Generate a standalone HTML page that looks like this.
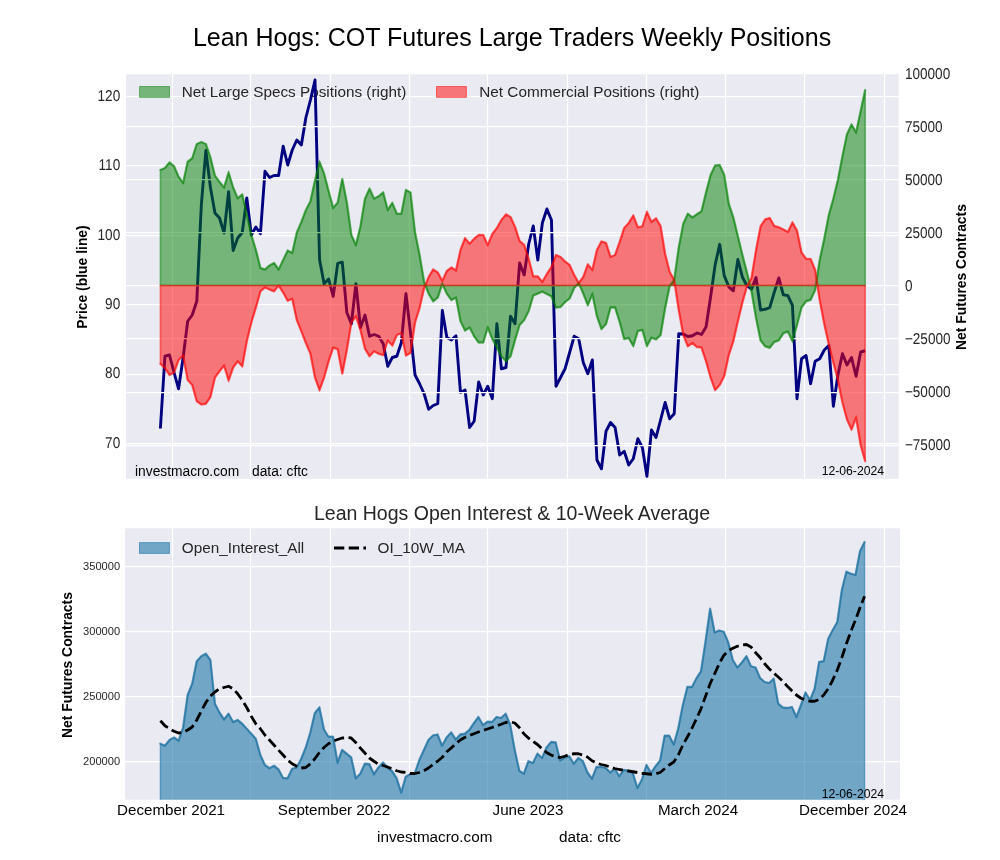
<!DOCTYPE html>
<html><head><meta charset="utf-8"><title>Lean Hogs COT</title>
<style>html,body{margin:0;padding:0;background:#fff;}body{width:1000px;height:860px;overflow:hidden;}svg{display:block;}text{font-family:"Liberation Sans",sans-serif;}</style></head><body>
<div style="will-change:transform;width:1000px;height:860px;">
<svg width="1000" height="860" viewBox="0 0 1000 860">
<rect x="0" y="0" width="1000" height="860" fill="#ffffff"/>
<defs>
<clipPath id="ct"><rect x="126.00" y="74.00" width="772.75" height="404.75"/></clipPath>
<clipPath id="cb"><rect x="125.00" y="528.30" width="775.00" height="271.40"/></clipPath>
</defs>
<rect x="126.00" y="74.00" width="772.75" height="404.75" fill="#EAEAF2"/>
<g clip-path="url(#ct)">
<g stroke="#ffffff" stroke-width="1.25" fill="none">
<line x1="172.50" y1="74.00" x2="172.50" y2="478.75"/>
<line x1="250.50" y1="74.00" x2="250.50" y2="478.75"/>
<line x1="330.50" y1="74.00" x2="330.50" y2="478.75"/>
<line x1="409.50" y1="74.00" x2="409.50" y2="478.75"/>
<line x1="487.50" y1="74.00" x2="487.50" y2="478.75"/>
<line x1="567.50" y1="74.00" x2="567.50" y2="478.75"/>
<line x1="646.50" y1="74.00" x2="646.50" y2="478.75"/>
<line x1="725.50" y1="74.00" x2="725.50" y2="478.75"/>
<line x1="804.50" y1="74.00" x2="804.50" y2="478.75"/>
<line x1="884.50" y1="74.00" x2="884.50" y2="478.75"/>
<line x1="126.00" y1="96.50" x2="898.75" y2="96.50"/>
<line x1="126.00" y1="165.50" x2="898.75" y2="165.50"/>
<line x1="126.00" y1="235.50" x2="898.75" y2="235.50"/>
<line x1="126.00" y1="304.50" x2="898.75" y2="304.50"/>
<line x1="126.00" y1="374.50" x2="898.75" y2="374.50"/>
<line x1="126.00" y1="443.50" x2="898.75" y2="443.50"/>
</g>
<g>
<rect x="139.6" y="86.5" width="29.9" height="10.8" fill="#008000" fill-opacity="0.5" stroke="#008000" stroke-opacity="0.5" stroke-width="1.0"/>
<text transform="translate(181.80,96.90)" font-size="15.30" text-anchor="start" fill="#262626">Net Large Specs Positions (right)</text>
<rect x="436.5" y="86.5" width="29.9" height="10.8" fill="#ff0000" fill-opacity="0.5" stroke="#ff0000" stroke-opacity="0.5" stroke-width="1.0"/>
<text transform="translate(479.30,96.90)" font-size="15.30" text-anchor="start" fill="#262626">Net Commercial Positions (right)</text>
</g>
<polyline points="160.40,428.50 164.95,356.25 169.49,355.00 174.04,372.50 178.59,388.75 183.13,357.50 187.68,321.25 192.23,315.00 196.78,301.25 201.32,205.00 205.87,150.50 210.42,187.50 214.96,213.00 219.51,218.00 224.06,233.00 228.61,191.75 233.15,250.50 237.70,238.00 242.25,232.50 246.79,198.00 251.34,235.00 255.89,227.00 260.43,233.75 264.98,171.25 269.53,177.50 274.07,175.50 278.62,175.50 283.17,146.25 287.72,165.00 292.26,150.00 296.81,140.00 301.36,145.00 305.90,117.50 310.45,100.00 315.00,80.00 319.54,259.50 324.09,283.80 328.64,279.00 333.19,296.40 337.73,263.40 342.28,262.20 346.83,312.50 351.37,323.75 355.92,283.75 360.47,327.50 365.01,315.00 369.56,336.25 374.11,334.50 378.66,336.25 383.20,343.75 387.75,366.25 392.30,357.50 396.84,356.25 401.39,342.50 405.94,293.75 410.49,332.50 415.03,375.00 419.58,383.75 424.13,393.75 428.67,409.25 433.22,405.50 437.77,403.75 442.31,310.50 446.86,337.50 451.41,340.00 455.96,335.75 460.50,392.50 465.05,390.00 469.60,427.50 474.14,421.25 478.69,382.00 483.24,395.00 487.78,386.25 492.33,398.75 496.88,323.75 501.42,368.75 505.97,367.50 510.52,316.25 515.07,323.75 519.61,263.00 524.16,275.00 528.71,244.00 533.25,226.00 537.80,260.00 542.35,223.00 546.89,209.00 551.44,220.00 555.99,386.25 560.54,377.50 565.08,368.75 569.63,352.50 574.18,336.25 578.72,338.75 583.27,362.50 587.82,373.75 592.37,360.00 596.91,460.00 601.46,468.75 606.01,431.25 610.55,422.50 615.10,427.50 619.65,455.00 624.19,451.25 628.74,465.00 633.29,458.75 637.83,438.75 642.38,447.50 646.93,476.25 651.48,430.00 656.02,437.50 660.57,420.00 665.12,402.50 669.66,418.75 674.21,413.75 678.76,333.75 683.30,334.00 687.85,336.50 692.40,335.70 696.95,332.90 701.49,334.50 706.04,327.00 710.59,297.00 715.13,265.00 719.68,244.30 724.23,275.60 728.77,286.80 733.32,290.80 737.87,259.50 742.42,277.20 746.96,285.70 751.51,289.20 756.06,277.50 760.60,310.00 765.15,309.30 769.70,307.70 774.24,292.40 778.79,278.00 783.34,294.80 787.89,295.60 792.43,305.30 796.98,398.75 801.53,358.75 806.07,355.50 810.62,383.75 815.17,361.25 819.71,358.75 824.26,350.00 828.81,345.50 833.36,406.25 837.90,375.00 842.45,353.75 847.00,365.00 851.54,357.50 856.09,376.25 860.64,352.00 865.18,350.75" fill="none" stroke="#000080" stroke-width="2.9" stroke-linejoin="round" stroke-linecap="butt"/>
<g stroke="#ffffff" stroke-width="1.25" fill="none">
<line x1="126.00" y1="73.50" x2="898.75" y2="73.50"/>
<line x1="126.00" y1="126.50" x2="898.75" y2="126.50"/>
<line x1="126.00" y1="179.50" x2="898.75" y2="179.50"/>
<line x1="126.00" y1="232.50" x2="898.75" y2="232.50"/>
<line x1="126.00" y1="285.50" x2="898.75" y2="285.50"/>
<line x1="126.00" y1="338.50" x2="898.75" y2="338.50"/>
<line x1="126.00" y1="392.50" x2="898.75" y2="392.50"/>
<line x1="126.00" y1="445.50" x2="898.75" y2="445.50"/>
</g>
<polygon points="160.40,285.50 160.40,170.00 164.95,168.00 169.49,162.50 174.04,166.25 178.59,176.75 183.13,183.00 187.68,161.75 192.23,158.25 196.78,144.00 201.32,142.00 205.87,144.00 210.42,157.50 214.96,175.75 219.51,182.00 224.06,187.50 228.61,172.50 233.15,187.50 237.70,198.25 242.25,194.50 246.79,214.50 251.34,235.00 255.89,250.00 260.43,268.00 264.98,269.50 269.53,265.50 274.07,263.00 278.62,269.50 283.17,260.00 287.72,250.50 292.26,253.00 296.81,232.50 301.36,222.00 305.90,210.00 310.45,201.25 315.00,180.50 319.54,162.00 324.09,173.75 328.64,191.25 333.19,208.00 337.73,202.50 342.28,179.00 346.83,202.50 351.37,235.00 355.92,245.00 360.47,226.25 365.01,198.75 369.56,188.75 374.11,198.75 378.66,196.25 383.20,192.50 387.75,210.00 392.30,203.00 396.84,213.75 401.39,213.75 405.94,190.00 410.49,192.50 415.03,232.50 419.58,255.00 424.13,282.00 428.67,293.75 433.22,301.25 437.77,297.50 442.31,283.75 446.86,293.75 451.41,300.00 455.96,297.50 460.50,321.25 465.05,330.50 469.60,327.50 474.14,336.25 478.69,342.50 483.24,342.50 487.78,327.50 492.33,339.00 496.88,347.50 501.42,356.25 505.97,361.25 510.52,356.25 515.07,340.00 519.61,325.00 524.16,320.00 528.71,311.00 533.25,295.50 537.80,293.60 542.35,291.60 546.89,294.00 551.44,296.40 555.99,307.60 560.54,307.00 565.08,302.00 569.63,298.40 574.18,288.00 578.72,283.00 583.27,293.60 587.82,305.00 592.37,294.00 596.91,316.00 601.46,329.00 606.01,324.00 610.55,307.40 615.10,307.40 619.65,322.00 624.19,339.00 628.74,338.00 633.29,346.00 637.83,331.00 642.38,330.00 646.93,346.00 651.48,337.60 656.02,339.40 660.57,335.00 665.12,308.00 669.66,286.00 674.21,280.00 678.76,247.50 683.30,223.75 687.85,213.75 692.40,217.50 696.95,214.25 701.49,211.25 706.04,192.50 710.59,175.00 715.13,165.50 719.68,165.00 724.23,175.00 728.77,203.75 733.32,217.50 737.87,236.25 742.42,255.00 746.96,272.50 751.51,291.25 756.06,318.00 760.60,340.50 765.15,346.25 769.70,347.75 774.24,342.00 778.79,340.25 783.34,333.25 787.89,331.50 792.43,341.25 796.98,325.00 801.53,307.50 806.07,301.25 810.62,299.75 815.17,290.00 819.71,260.00 824.26,238.75 828.81,215.00 833.36,198.75 837.90,180.00 842.45,156.25 847.00,134.25 851.54,124.50 856.09,132.50 860.64,111.25 865.18,90.00 865.18,285.50" fill="#008000" fill-opacity="0.5" stroke="#008000" stroke-opacity="0.5" stroke-width="1.60" stroke-linejoin="miter"/>
<polygon points="160.40,285.50 160.40,363.75 164.95,368.00 169.49,375.00 174.04,372.50 178.59,360.00 183.13,355.50 187.68,380.00 192.23,385.00 196.78,401.25 201.32,404.50 205.87,403.75 210.42,397.00 214.96,377.50 219.51,371.25 224.06,365.50 228.61,380.50 233.15,367.50 237.70,361.25 242.25,366.25 246.79,341.25 251.34,322.50 255.89,307.50 260.43,291.25 264.98,287.50 269.53,289.50 274.07,291.25 278.62,285.50 283.17,292.50 287.72,300.75 292.26,298.75 296.81,320.00 301.36,331.25 305.90,343.00 310.45,353.75 315.00,377.50 319.54,390.00 324.09,377.50 328.64,361.25 333.19,347.50 337.73,349.25 342.28,373.75 346.83,350.00 351.37,322.50 355.92,316.25 360.47,330.00 365.01,348.75 369.56,356.25 374.11,351.25 378.66,353.75 383.20,355.00 387.75,340.50 392.30,345.50 396.84,335.00 401.39,333.00 405.94,355.50 410.49,353.00 415.03,322.50 419.58,308.00 424.13,288.00 428.67,277.00 433.22,269.50 437.77,272.50 442.31,281.00 446.86,271.00 451.41,267.50 455.96,270.50 460.50,250.00 465.05,238.25 469.60,243.75 474.14,238.75 478.69,235.00 483.24,235.00 487.78,245.00 492.33,234.00 496.88,228.00 501.42,220.00 505.97,214.40 510.52,217.00 515.07,227.00 519.61,241.00 524.16,245.00 528.71,259.00 533.25,276.40 537.80,276.40 542.35,282.00 546.89,274.00 551.44,267.00 555.99,255.00 560.54,257.00 565.08,261.60 569.63,265.00 574.18,275.00 578.72,283.00 583.27,277.00 587.82,264.40 592.37,270.00 596.91,250.00 601.46,241.40 606.01,243.00 610.55,257.00 615.10,255.00 619.65,242.00 624.19,228.00 628.74,223.00 633.29,215.60 637.83,227.40 642.38,226.40 646.93,212.00 651.48,222.00 656.02,218.40 660.57,226.00 665.12,254.00 669.66,272.00 674.21,280.00 678.76,310.00 683.30,335.00 687.85,346.25 692.40,343.00 696.95,347.00 701.49,347.50 706.04,361.25 710.59,377.50 715.13,390.00 719.68,385.00 724.23,376.25 728.77,355.00 733.32,341.25 737.87,321.25 742.42,302.50 746.96,286.25 751.51,278.00 756.06,250.00 760.60,226.25 765.15,219.50 769.70,218.00 774.24,226.00 778.79,227.25 783.34,229.50 787.89,232.00 792.43,222.50 796.98,230.50 801.53,252.50 806.07,258.75 810.62,259.00 815.17,270.00 819.71,300.00 824.26,323.75 828.81,344.50 833.36,362.50 837.90,380.00 842.45,402.50 847.00,419.50 851.54,429.50 856.09,417.50 860.64,445.00 865.18,461.25 865.18,285.50" fill="#ff0000" fill-opacity="0.5" stroke="#ff0000" stroke-opacity="0.5" stroke-width="1.60" stroke-linejoin="miter"/>
<polyline points="160.40,170.00 164.95,168.00 169.49,162.50 174.04,166.25 178.59,176.75 183.13,183.00 187.68,161.75 192.23,158.25 196.78,144.00 201.32,142.00 205.87,144.00 210.42,157.50 214.96,175.75 219.51,182.00 224.06,187.50 228.61,172.50 233.15,187.50 237.70,198.25 242.25,194.50 246.79,214.50 251.34,235.00 255.89,250.00 260.43,268.00 264.98,269.50 269.53,265.50 274.07,263.00 278.62,269.50 283.17,260.00 287.72,250.50 292.26,253.00 296.81,232.50 301.36,222.00 305.90,210.00 310.45,201.25 315.00,180.50 319.54,162.00 324.09,173.75 328.64,191.25 333.19,208.00 337.73,202.50 342.28,179.00 346.83,202.50 351.37,235.00 355.92,245.00 360.47,226.25 365.01,198.75 369.56,188.75 374.11,198.75 378.66,196.25 383.20,192.50 387.75,210.00 392.30,203.00 396.84,213.75 401.39,213.75 405.94,190.00 410.49,192.50 415.03,232.50 419.58,255.00 424.13,282.00 428.67,293.75 433.22,301.25 437.77,297.50 442.31,283.75 446.86,293.75 451.41,300.00 455.96,297.50 460.50,321.25 465.05,330.50 469.60,327.50 474.14,336.25 478.69,342.50 483.24,342.50 487.78,327.50 492.33,339.00 496.88,347.50 501.42,356.25 505.97,361.25 510.52,356.25 515.07,340.00 519.61,325.00 524.16,320.00 528.71,311.00 533.25,295.50 537.80,293.60 542.35,291.60 546.89,294.00 551.44,296.40 555.99,307.60 560.54,307.00 565.08,302.00 569.63,298.40 574.18,288.00 578.72,283.00 583.27,293.60 587.82,305.00 592.37,294.00 596.91,316.00 601.46,329.00 606.01,324.00 610.55,307.40 615.10,307.40 619.65,322.00 624.19,339.00 628.74,338.00 633.29,346.00 637.83,331.00 642.38,330.00 646.93,346.00 651.48,337.60 656.02,339.40 660.57,335.00 665.12,308.00 669.66,286.00 674.21,280.00 678.76,247.50 683.30,223.75 687.85,213.75 692.40,217.50 696.95,214.25 701.49,211.25 706.04,192.50 710.59,175.00 715.13,165.50 719.68,165.00 724.23,175.00 728.77,203.75 733.32,217.50 737.87,236.25 742.42,255.00 746.96,272.50 751.51,291.25 756.06,318.00 760.60,340.50 765.15,346.25 769.70,347.75 774.24,342.00 778.79,340.25 783.34,333.25 787.89,331.50 792.43,341.25 796.98,325.00 801.53,307.50 806.07,301.25 810.62,299.75 815.17,290.00 819.71,260.00 824.26,238.75 828.81,215.00 833.36,198.75 837.90,180.00 842.45,156.25 847.00,134.25 851.54,124.50 856.09,132.50 860.64,111.25 865.18,90.00" fill="none" stroke="#008000" stroke-opacity="0.42" stroke-width="2.45" stroke-linejoin="round" stroke-linecap="round"/>
<polyline points="160.40,363.75 164.95,368.00 169.49,375.00 174.04,372.50 178.59,360.00 183.13,355.50 187.68,380.00 192.23,385.00 196.78,401.25 201.32,404.50 205.87,403.75 210.42,397.00 214.96,377.50 219.51,371.25 224.06,365.50 228.61,380.50 233.15,367.50 237.70,361.25 242.25,366.25 246.79,341.25 251.34,322.50 255.89,307.50 260.43,291.25 264.98,287.50 269.53,289.50 274.07,291.25 278.62,285.50 283.17,292.50 287.72,300.75 292.26,298.75 296.81,320.00 301.36,331.25 305.90,343.00 310.45,353.75 315.00,377.50 319.54,390.00 324.09,377.50 328.64,361.25 333.19,347.50 337.73,349.25 342.28,373.75 346.83,350.00 351.37,322.50 355.92,316.25 360.47,330.00 365.01,348.75 369.56,356.25 374.11,351.25 378.66,353.75 383.20,355.00 387.75,340.50 392.30,345.50 396.84,335.00 401.39,333.00 405.94,355.50 410.49,353.00 415.03,322.50 419.58,308.00 424.13,288.00 428.67,277.00 433.22,269.50 437.77,272.50 442.31,281.00 446.86,271.00 451.41,267.50 455.96,270.50 460.50,250.00 465.05,238.25 469.60,243.75 474.14,238.75 478.69,235.00 483.24,235.00 487.78,245.00 492.33,234.00 496.88,228.00 501.42,220.00 505.97,214.40 510.52,217.00 515.07,227.00 519.61,241.00 524.16,245.00 528.71,259.00 533.25,276.40 537.80,276.40 542.35,282.00 546.89,274.00 551.44,267.00 555.99,255.00 560.54,257.00 565.08,261.60 569.63,265.00 574.18,275.00 578.72,283.00 583.27,277.00 587.82,264.40 592.37,270.00 596.91,250.00 601.46,241.40 606.01,243.00 610.55,257.00 615.10,255.00 619.65,242.00 624.19,228.00 628.74,223.00 633.29,215.60 637.83,227.40 642.38,226.40 646.93,212.00 651.48,222.00 656.02,218.40 660.57,226.00 665.12,254.00 669.66,272.00 674.21,280.00 678.76,310.00 683.30,335.00 687.85,346.25 692.40,343.00 696.95,347.00 701.49,347.50 706.04,361.25 710.59,377.50 715.13,390.00 719.68,385.00 724.23,376.25 728.77,355.00 733.32,341.25 737.87,321.25 742.42,302.50 746.96,286.25 751.51,278.00 756.06,250.00 760.60,226.25 765.15,219.50 769.70,218.00 774.24,226.00 778.79,227.25 783.34,229.50 787.89,232.00 792.43,222.50 796.98,230.50 801.53,252.50 806.07,258.75 810.62,259.00 815.17,270.00 819.71,300.00 824.26,323.75 828.81,344.50 833.36,362.50 837.90,380.00 842.45,402.50 847.00,419.50 851.54,429.50 856.09,417.50 860.64,445.00 865.18,461.25" fill="none" stroke="#ff0000" stroke-opacity="0.42" stroke-width="2.45" stroke-linejoin="round" stroke-linecap="round"/>
</g>
<text transform="translate(512.00,46.00)" font-size="25.00" text-anchor="middle" fill="#000000">Lean Hogs: COT Futures Large Traders Weekly Positions</text>
<text transform="translate(120.20,100.70) scale(0.865,1.000)" font-size="15.70" text-anchor="end" fill="#262626" text-rendering="geometricPrecision">120</text>
<text transform="translate(120.20,170.10) scale(0.865,1.000)" font-size="15.70" text-anchor="end" fill="#262626" text-rendering="geometricPrecision">110</text>
<text transform="translate(120.20,239.50) scale(0.865,1.000)" font-size="15.70" text-anchor="end" fill="#262626" text-rendering="geometricPrecision">100</text>
<text transform="translate(120.20,308.90) scale(0.865,1.000)" font-size="15.70" text-anchor="end" fill="#262626" text-rendering="geometricPrecision">90</text>
<text transform="translate(120.20,378.30) scale(0.865,1.000)" font-size="15.70" text-anchor="end" fill="#262626" text-rendering="geometricPrecision">80</text>
<text transform="translate(120.20,447.70) scale(0.865,1.000)" font-size="15.70" text-anchor="end" fill="#262626" text-rendering="geometricPrecision">70</text>
<text transform="translate(904.90,78.80) scale(0.865,1.000)" font-size="15.70" text-anchor="start" fill="#262626" text-rendering="geometricPrecision">100000</text>
<text transform="translate(904.90,131.80) scale(0.865,1.000)" font-size="15.70" text-anchor="start" fill="#262626" text-rendering="geometricPrecision">75000</text>
<text transform="translate(904.90,184.80) scale(0.865,1.000)" font-size="15.70" text-anchor="start" fill="#262626" text-rendering="geometricPrecision">50000</text>
<text transform="translate(904.90,237.80) scale(0.865,1.000)" font-size="15.70" text-anchor="start" fill="#262626" text-rendering="geometricPrecision">25000</text>
<text transform="translate(904.90,290.80) scale(0.865,1.000)" font-size="15.70" text-anchor="start" fill="#262626" text-rendering="geometricPrecision">0</text>
<text transform="translate(904.90,343.80) scale(0.865,1.000)" font-size="15.70" text-anchor="start" fill="#262626" text-rendering="geometricPrecision">−25000</text>
<text transform="translate(904.90,396.80) scale(0.865,1.000)" font-size="15.70" text-anchor="start" fill="#262626" text-rendering="geometricPrecision">−50000</text>
<text transform="translate(904.90,449.80) scale(0.865,1.000)" font-size="15.70" text-anchor="start" fill="#262626" text-rendering="geometricPrecision">−75000</text>
<text transform="translate(86.50,277.00) rotate(-90)" font-size="13.90" text-anchor="middle" fill="#000000" font-weight="bold">Price (blue line)</text>
<text transform="translate(966.00,277.00) rotate(-90)" font-size="13.90" text-anchor="middle" fill="#000000" font-weight="bold">Net Futures Contracts</text>
<text transform="translate(135.00,475.50)" font-size="13.80" text-anchor="start" fill="#000000">investmacro.com</text>
<text transform="translate(252.00,475.50)" font-size="13.80" text-anchor="start" fill="#000000">data: cftc</text>
<text transform="translate(884.00,475.00)" font-size="12.20" text-anchor="end" fill="#000000">12-06-2024</text>
<rect x="125.00" y="528.30" width="775.00" height="271.40" fill="#EAEAF2"/>
<g clip-path="url(#cb)">
<g stroke="#ffffff" stroke-width="1.25" fill="none">
<line x1="172.50" y1="528.30" x2="172.50" y2="799.70"/>
<line x1="250.50" y1="528.30" x2="250.50" y2="799.70"/>
<line x1="330.50" y1="528.30" x2="330.50" y2="799.70"/>
<line x1="409.50" y1="528.30" x2="409.50" y2="799.70"/>
<line x1="487.50" y1="528.30" x2="487.50" y2="799.70"/>
<line x1="567.50" y1="528.30" x2="567.50" y2="799.70"/>
<line x1="646.50" y1="528.30" x2="646.50" y2="799.70"/>
<line x1="725.50" y1="528.30" x2="725.50" y2="799.70"/>
<line x1="804.50" y1="528.30" x2="804.50" y2="799.70"/>
<line x1="884.50" y1="528.30" x2="884.50" y2="799.70"/>
<line x1="125.00" y1="566.50" x2="900.00" y2="566.50"/>
<line x1="125.00" y1="631.50" x2="900.00" y2="631.50"/>
<line x1="125.00" y1="696.50" x2="900.00" y2="696.50"/>
<line x1="125.00" y1="761.50" x2="900.00" y2="761.50"/>
</g>
<polygon points="160.40,804.70 160.40,743.75 164.94,745.75 169.49,740.00 174.03,737.50 178.57,740.75 183.12,727.50 187.66,695.00 192.20,683.75 196.74,661.25 201.29,656.25 205.83,653.75 210.37,660.00 214.92,703.75 219.46,712.50 224.00,719.50 228.55,713.75 233.09,722.00 237.63,720.00 242.17,723.75 246.72,728.75 251.26,733.75 255.80,738.75 260.35,755.00 264.89,765.00 269.43,768.25 273.98,765.75 278.52,769.50 283.06,778.00 287.60,778.25 292.15,768.75 296.69,767.50 301.23,758.75 305.78,747.50 310.32,732.50 314.86,713.00 319.40,707.50 323.95,729.50 328.49,736.75 333.03,736.75 337.58,762.50 342.12,750.00 346.66,753.75 351.21,757.50 355.75,778.25 360.29,773.75 364.84,763.75 369.38,764.25 373.92,774.25 378.46,767.50 383.01,762.50 387.55,767.50 392.09,771.25 396.64,778.25 401.18,792.50 405.72,776.75 410.26,774.25 414.81,773.25 419.35,760.00 423.89,750.00 428.44,740.00 432.98,735.50 437.52,734.50 442.07,745.75 446.61,737.50 451.15,732.50 455.70,739.50 460.24,734.50 464.78,733.75 469.32,730.00 473.87,723.25 478.41,717.00 482.95,725.00 487.50,721.75 492.04,722.00 496.58,717.00 501.12,718.00 505.67,713.75 510.21,725.00 514.75,750.00 519.30,770.75 523.84,773.75 528.38,761.25 532.93,763.00 537.47,753.75 542.01,758.00 546.56,747.50 551.10,742.00 555.64,742.50 560.18,760.50 564.73,757.50 569.27,756.25 573.81,763.75 578.36,758.00 582.90,761.25 587.44,772.50 591.99,778.75 596.53,767.00 601.07,767.00 605.61,768.00 610.16,772.50 614.70,768.75 619.24,776.25 623.79,770.00 628.33,770.75 632.87,773.25 637.42,788.00 641.96,779.50 646.50,765.00 651.04,773.00 655.59,766.25 660.13,760.50 664.67,735.75 669.22,735.75 673.76,744.50 678.30,728.25 682.85,705.00 687.39,687.00 691.93,687.00 696.47,678.25 701.02,671.25 705.56,641.25 710.10,608.75 714.65,632.50 719.19,630.50 723.73,631.75 728.27,642.50 732.82,660.00 737.36,667.50 741.90,662.50 746.45,656.25 750.99,666.25 755.53,667.50 760.08,678.00 764.62,682.00 769.16,683.00 773.71,678.75 778.25,703.75 782.79,707.50 787.33,708.00 791.88,707.00 796.42,717.00 800.96,705.00 805.51,692.50 810.05,700.00 814.59,688.75 819.13,662.00 823.68,661.25 828.22,638.75 832.76,630.00 837.31,622.00 841.85,590.00 846.39,571.75 850.94,573.75 855.48,575.00 860.02,551.25 864.57,542.00 864.57,804.70" fill="#1f78aa" fill-opacity="0.60" stroke="#1f78aa" stroke-opacity="0.60" stroke-width="1.39"/>
<polyline points="160.40,743.75 164.94,745.75 169.49,740.00 174.03,737.50 178.57,740.75 183.12,727.50 187.66,695.00 192.20,683.75 196.74,661.25 201.29,656.25 205.83,653.75 210.37,660.00 214.92,703.75 219.46,712.50 224.00,719.50 228.55,713.75 233.09,722.00 237.63,720.00 242.17,723.75 246.72,728.75 251.26,733.75 255.80,738.75 260.35,755.00 264.89,765.00 269.43,768.25 273.98,765.75 278.52,769.50 283.06,778.00 287.60,778.25 292.15,768.75 296.69,767.50 301.23,758.75 305.78,747.50 310.32,732.50 314.86,713.00 319.40,707.50 323.95,729.50 328.49,736.75 333.03,736.75 337.58,762.50 342.12,750.00 346.66,753.75 351.21,757.50 355.75,778.25 360.29,773.75 364.84,763.75 369.38,764.25 373.92,774.25 378.46,767.50 383.01,762.50 387.55,767.50 392.09,771.25 396.64,778.25 401.18,792.50 405.72,776.75 410.26,774.25 414.81,773.25 419.35,760.00 423.89,750.00 428.44,740.00 432.98,735.50 437.52,734.50 442.07,745.75 446.61,737.50 451.15,732.50 455.70,739.50 460.24,734.50 464.78,733.75 469.32,730.00 473.87,723.25 478.41,717.00 482.95,725.00 487.50,721.75 492.04,722.00 496.58,717.00 501.12,718.00 505.67,713.75 510.21,725.00 514.75,750.00 519.30,770.75 523.84,773.75 528.38,761.25 532.93,763.00 537.47,753.75 542.01,758.00 546.56,747.50 551.10,742.00 555.64,742.50 560.18,760.50 564.73,757.50 569.27,756.25 573.81,763.75 578.36,758.00 582.90,761.25 587.44,772.50 591.99,778.75 596.53,767.00 601.07,767.00 605.61,768.00 610.16,772.50 614.70,768.75 619.24,776.25 623.79,770.00 628.33,770.75 632.87,773.25 637.42,788.00 641.96,779.50 646.50,765.00 651.04,773.00 655.59,766.25 660.13,760.50 664.67,735.75 669.22,735.75 673.76,744.50 678.30,728.25 682.85,705.00 687.39,687.00 691.93,687.00 696.47,678.25 701.02,671.25 705.56,641.25 710.10,608.75 714.65,632.50 719.19,630.50 723.73,631.75 728.27,642.50 732.82,660.00 737.36,667.50 741.90,662.50 746.45,656.25 750.99,666.25 755.53,667.50 760.08,678.00 764.62,682.00 769.16,683.00 773.71,678.75 778.25,703.75 782.79,707.50 787.33,708.00 791.88,707.00 796.42,717.00 800.96,705.00 805.51,692.50 810.05,700.00 814.59,688.75 819.13,662.00 823.68,661.25 828.22,638.75 832.76,630.00 837.31,622.00 841.85,590.00 846.39,571.75 850.94,573.75 855.48,575.00 860.02,551.25 864.57,542.00" fill="none" stroke="#1a6e9c" stroke-opacity="0.60" stroke-width="2.3" stroke-linejoin="round" stroke-linecap="round"/>
<polyline points="160.40,720.75 164.94,725.75 169.49,728.75 174.03,731.25 178.57,733.00 183.12,732.50 187.66,730.00 192.20,727.00 196.74,720.00 201.29,711.25 205.83,702.50 210.37,696.25 214.92,692.00 219.46,688.75 224.00,687.50 228.55,686.25 233.09,688.75 237.63,693.75 242.17,700.00 246.72,707.50 251.26,716.25 255.80,723.75 260.35,728.75 264.89,735.00 269.43,740.00 273.98,745.00 278.52,750.00 283.06,755.00 287.60,760.00 292.15,763.75 296.69,766.25 301.23,768.00 305.78,767.50 310.32,763.75 314.86,758.75 319.40,752.50 323.95,747.50 328.49,743.75 333.03,741.25 337.58,739.50 342.12,738.00 346.66,737.50 351.21,738.00 355.75,742.50 360.29,748.00 364.84,753.00 369.38,758.00 373.92,761.25 378.46,764.25 383.01,765.50 387.55,767.00 392.09,768.75 396.64,770.75 401.18,772.00 405.72,772.50 410.26,773.50 414.81,773.50 419.35,772.50 423.89,770.75 428.44,768.00 432.98,764.50 437.52,761.25 442.07,757.50 446.61,752.00 451.15,748.00 455.70,743.75 460.24,740.00 464.78,737.50 469.32,735.50 473.87,733.75 478.41,732.00 482.95,730.50 487.50,729.00 492.04,727.50 496.58,725.75 501.12,724.25 505.67,722.50 510.21,721.75 514.75,723.00 519.30,727.50 523.84,733.75 528.38,738.00 532.93,741.25 537.47,744.50 542.01,748.75 546.56,752.50 551.10,755.00 555.64,756.75 560.18,757.50 564.73,756.25 569.27,754.50 573.81,753.75 578.36,753.75 582.90,755.00 587.44,757.00 591.99,760.75 596.53,763.00 601.07,764.50 605.61,765.50 610.16,767.00 614.70,768.50 619.24,769.50 623.79,770.25 628.33,771.00 632.87,771.75 637.42,772.50 641.96,773.25 646.50,773.75 651.04,774.25 655.59,773.75 660.13,772.50 664.67,768.75 669.22,765.00 673.76,762.00 678.30,755.00 682.85,745.00 687.39,737.00 691.93,728.25 696.47,718.75 701.02,708.75 705.56,696.25 710.10,683.75 714.65,673.75 719.19,663.75 723.73,655.50 728.27,650.75 732.82,648.25 737.36,646.25 741.90,645.00 746.45,644.50 750.99,647.00 755.53,652.50 760.08,657.50 764.62,663.75 769.16,668.75 773.71,673.00 778.25,677.00 782.79,681.25 787.33,686.25 791.88,690.75 796.42,695.00 800.96,698.25 805.51,700.00 810.05,701.25 814.59,701.25 819.13,699.50 823.68,695.00 828.22,688.75 832.76,680.00 837.31,670.00 841.85,657.50 846.39,643.75 850.94,631.25 855.48,620.00 860.02,607.50 864.57,596.25" fill="none" stroke="#000000" stroke-width="2.8" stroke-dasharray="10.3 4.4" stroke-linejoin="round"/>
<rect x="139.5" y="542.6" width="29.9" height="10.8" fill="#1f78aa" fill-opacity="0.6" stroke="#1f78aa" stroke-opacity="0.6" stroke-width="1.0"/>
<text transform="translate(181.80,553.10)" font-size="15.30" text-anchor="start" fill="#262626">Open_Interest_All</text>
<line x1="334" y1="548" x2="366" y2="548" stroke="#000" stroke-width="2.8" stroke-dasharray="10.3 4.4"/>
<text transform="translate(377.50,553.10)" font-size="15.30" text-anchor="start" fill="#262626">OI_10W_MA</text>
</g>
<text transform="translate(512.00,520.00)" font-size="19.50" text-anchor="middle" fill="#262626">Lean Hogs Open Interest &amp; 10-Week Average</text>
<text transform="translate(120.10,570.10)" font-size="11.10" text-anchor="end" fill="#262626">350000</text>
<text transform="translate(120.10,635.10)" font-size="11.10" text-anchor="end" fill="#262626">300000</text>
<text transform="translate(120.10,700.10)" font-size="11.10" text-anchor="end" fill="#262626">250000</text>
<text transform="translate(120.10,765.10)" font-size="11.10" text-anchor="end" fill="#262626">200000</text>
<text transform="translate(72.40,665.00) rotate(-90)" font-size="13.90" text-anchor="middle" fill="#000000" font-weight="bold">Net Futures Contracts</text>
<text transform="translate(171.00,815.30)" font-size="15.20" text-anchor="middle" fill="#000000">December 2021</text>
<text transform="translate(334.00,815.30)" font-size="15.20" text-anchor="middle" fill="#000000">September 2022</text>
<text transform="translate(528.00,815.30)" font-size="15.20" text-anchor="middle" fill="#000000">June 2023</text>
<text transform="translate(698.00,815.30)" font-size="15.20" text-anchor="middle" fill="#000000">March 2024</text>
<text transform="translate(853.00,815.30)" font-size="15.20" text-anchor="middle" fill="#000000">December 2024</text>
<text transform="translate(377.00,842.00)" font-size="15.28" text-anchor="start" fill="#000000">investmacro.com</text>
<text transform="translate(559.00,842.00)" font-size="15.28" text-anchor="start" fill="#000000">data: cftc</text>
<text transform="translate(884.00,798.00)" font-size="12.20" text-anchor="end" fill="#000000">12-06-2024</text>
</svg></div></body></html>
